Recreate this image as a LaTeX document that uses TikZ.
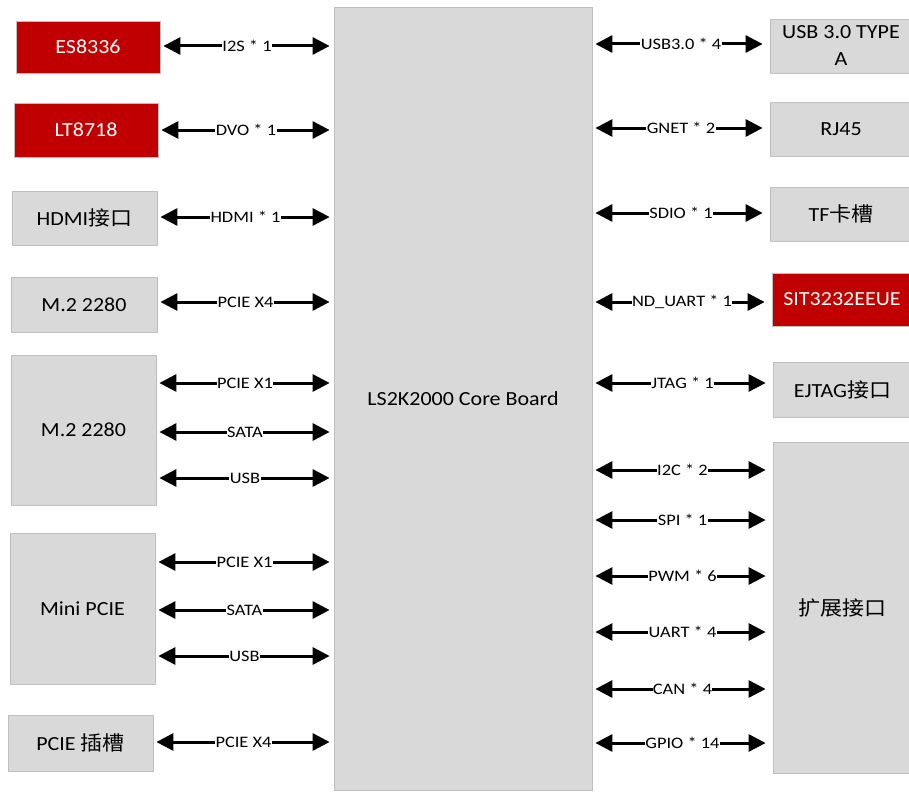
\documentclass[tikz,border=0pt]{standalone}
\usepackage{fontspec}
\usetikzlibrary{arrows.meta}
\newfontfamily\cbri[FakeStretch=1.1]{Carlito}
\newfontfamily\cjk[FakeStretch=1.1]{Noto Sans CJK SC}
\newfontfamily\lblf[FakeStretch=1.15]{Carlito}
\definecolor{boxgray}{HTML}{D9D9D9}
\definecolor{boxred}{HTML}{C00000}
\definecolor{boxline}{HTML}{BFBFBF}
\tikzset{
  box/.style={draw=boxline, fill=boxgray, line width=0.8pt, text=black, align=center, inner sep=0pt,
    font=\cbri\fontsize{20}{27}\selectfont},
  redbox/.style={box, fill=boxred, text=white},
  link/.style={line width=3pt, {Triangle[length=17pt,width=17pt]}-{Triangle[length=17pt,width=17pt]}},
  llink/.style={link, shorten <=3pt, shorten >=4pt},
  rlink/.style={link, shorten <=3pt, shorten >=7pt},
  lbl/.style={fill=white, inner sep=0.4pt, text=black, font=\lblf\fontsize{16}{18}\selectfont}
}
\begin{document}
\begin{tikzpicture}[x=1pt,y=-1pt]
\useasboundingbox[fill=white] (0,0) rectangle (909,792);
% core
\node[box, minimum width=258pt, minimum height=783pt] (core) at (463,398.5) {LS2K2000 Core Board};
% left boxes
\node[redbox, minimum width=144pt, minimum height=52pt] (es) at (88,47) {ES8336};
\node[redbox, minimum width=144pt, minimum height=54pt] (lt) at (86,130) {LT8718};
\node[box, minimum width=145pt, minimum height=54pt] (hdmi) at (84.5,218) {HDMI{\cjk 接口}};
\node[box, minimum width=146pt, minimum height=55pt] (m2a) at (84,304.5) {M.2 2280};
\node[box, minimum width=145pt, minimum height=150pt] (m2b) at (83.5,430) {M.2 2280};
\node[box, minimum width=145pt, minimum height=151pt] (mini) at (82.5,608.5) {Mini PCIE};
\node[box, minimum width=145pt, minimum height=56pt] (slot) at (80.5,743) {PCIE {\cjk 插槽}};
% right boxes
\node[box, minimum width=142pt, minimum height=54pt] (usb) at (841,46) {USB 3.0 TYPE\\A};
\node[box, minimum width=142pt, minimum height=54pt] (rj) at (841,129) {RJ45};
\node[box, minimum width=142pt, minimum height=54pt] (tf) at (841,214) {TF{\cjk 卡槽}};
\node[redbox, minimum width=140pt, minimum height=53pt] (sit) at (842,299.5) {SIT3232EEUE};
\node[box, minimum width=139pt, minimum height=55pt] (ej) at (842.5,389.5) {EJTAG{\cjk 接口}};
\node[box, minimum width=139pt, minimum height=331pt] (ext) at (842.5,607.5) {{\cjk 扩展接口}};
% left links
\draw[llink] (es.east |- 0,46) -- (core.west |- 0,46) node[lbl, midway] {I2S * 1};
\draw[llink] (lt.east |- 0,130) -- (core.west |- 0,130) node[lbl, midway] {DVO * 1};
\draw[llink] (hdmi.east |- 0,217) -- (core.west |- 0,217) node[lbl, midway] {HDMI * 1};
\draw[llink] (m2a.east |- 0,302) -- (core.west |- 0,302) node[lbl, midway] {PCIE X4};
\draw[llink] (m2b.east |- 0,383) -- (core.west |- 0,383) node[lbl, midway] {PCIE X1};
\draw[llink] (m2b.east |- 0,432) -- (core.west |- 0,432) node[lbl, midway] {SATA};
\draw[llink] (m2b.east |- 0,478) -- (core.west |- 0,478) node[lbl, midway] {USB};
\draw[llink] (mini.east |- 0,562) -- (core.west |- 0,562) node[lbl, midway] {PCIE X1};
\draw[llink] (mini.east |- 0,610) -- (core.west |- 0,610) node[lbl, midway] {SATA};
\draw[llink] (mini.east |- 0,656) -- (core.west |- 0,656) node[lbl, midway] {USB};
\draw[llink] (slot.east |- 0,742) -- (core.west |- 0,742) node[lbl, midway] {PCIE X4};
% right links
\draw[rlink] (core.east |- 0,44) -- (usb.west |- 0,44) node[lbl, midway] {USB3.0 * 4};
\draw[rlink] (core.east |- 0,128) -- (rj.west |- 0,128) node[lbl, midway] {GNET * 2};
\draw[rlink] (core.east |- 0,213) -- (tf.west |- 0,213) node[lbl, midway] {SDIO * 1};
\draw[rlink] (core.east |- 0,302) -- (sit.west |- 0,302) node[lbl, midway] {ND\_UART * 1};
\draw[rlink] (core.east |- 0,383) -- (ej.west |- 0,383) node[lbl, midway] {JTAG * 1};
\draw[rlink] (core.east |- 0,470) -- (ext.west |- 0,470) node[lbl, midway] {I2C * 2};
\draw[rlink] (core.east |- 0,520) -- (ext.west |- 0,520) node[lbl, midway] {SPI * 1};
\draw[rlink] (core.east |- 0,576) -- (ext.west |- 0,576) node[lbl, midway] {PWM * 6};
\draw[rlink] (core.east |- 0,632) -- (ext.west |- 0,632) node[lbl, midway] {UART * 4};
\draw[rlink] (core.east |- 0,689) -- (ext.west |- 0,689) node[lbl, midway] {CAN * 4};
\draw[rlink] (core.east |- 0,743) -- (ext.west |- 0,743) node[lbl, midway] {GPIO * 14};
\end{tikzpicture}
\end{document}
